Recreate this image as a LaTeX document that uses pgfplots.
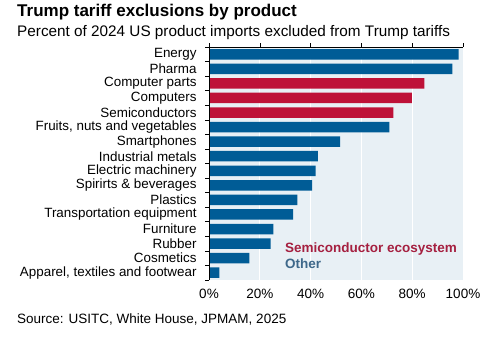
\documentclass[border=0pt]{standalone}
\usepackage{pgfplots}
\pgfplotsset{compat=1.18}
\usepackage{fontspec}
\setmainfont{Liberation Sans}
\definecolor{barblue}{RGB}{0,92,150}
\definecolor{barred}{RGB}{190,18,56}
\definecolor{bgc}{RGB}{232,240,245}
\definecolor{semitxt}{RGB}{165,32,64}
\definecolor{othtxt}{RGB}{62,104,138}
\begin{document}
\begin{tikzpicture}
\useasboundingbox (0pt,0pt) rectangle (500pt,337pt);
\node[anchor=base west,font=\bfseries\fontsize{17}{19}\selectfont,inner sep=0] at (17pt,320pt) {Trump tariff exclusions by product};
\node[anchor=base west,font=\fontsize{15.3}{17}\selectfont,inner sep=0] at (17pt,300pt) {Percent of 2024 US product imports excluded from Trump tariffs};
\begin{axis}[
  at={(209pt,57pt)}, anchor=south west,
  width=254pt, height=233pt, scale only axis,
  xmin=0, xmax=100, ymin=-0.5, ymax=15.5, y dir=reverse,
  axis background/.style={fill=bgc},
  axis line style={draw=none},
  xtick={0,20,...,100},
  xticklabel={\pgfmathprintnumber{\tick}\%},
  xticklabel pos=lower,
  xmajorgrids, major grid style={white, line width=1pt},
  major x tick style={draw=none},
  ytick={0,...,15},
  yticklabels={Energy,Pharma,Computer parts,Computers,Semiconductors,{Fruits, nuts and vegetables},Smartphones,Industrial metals,Electric machinery,Spirirts \& beverages,Plastics,Transportation equipment,Furniture,Rubber,Cosmetics,{Apparel, textiles and footwear}},
  major y tick style={draw=none},
  yticklabel style={font=\fontsize{13.4}{14}\selectfont, inner sep=0pt, xshift=-8pt},
  xticklabel style={font=\fontsize{13.5}{15}\selectfont, yshift=-6pt},
  /pgf/number format/assume math mode=true,
  xbar, bar width=10.5pt, bar shift=0pt,
  clip=false,
]
\addplot[fill=barblue, draw=none] coordinates {
(98.3,0) (95.8,1) (71,5) (51.6,6) (42.9,7) (42,8) (40.6,9) (34.8,10) (33.1,11) (25.3,12) (24.3,13) (15.9,14) (4.1,15)};
\addplot[fill=barred, draw=none] coordinates {
(84.8,2) (79.9,3) (72.6,4)};
\end{axis}
\begin{axis}[
  at={(209pt,57pt)}, anchor=south west,
  width=254pt, height=233pt, scale only axis,
  xmin=0, xmax=100, ymin=-0.5, ymax=15.5, y dir=reverse,
  axis x line*=top, axis y line*=left,
  axis line style={black, line width=0.6pt},
  xtick={0,20,...,100}, xticklabels={},
  ytick={-0.5,0.5,...,15.5}, yticklabels={},
  tick align=outside, tick style={black, line width=0.6pt},
  major tick length=4pt,
]
\end{axis}
\node[anchor=base west,font=\bfseries\fontsize{13.5}{15}\selectfont,text=semitxt,inner sep=0] at (285pt,84pt) {Semiconductor ecosystem};
\node[anchor=base west,font=\bfseries\fontsize{13.5}{15}\selectfont,text=othtxt,inner sep=0] at (285pt,68pt) {Other};
\node[anchor=base west,font=\fontsize{13.5}{15}\selectfont,inner sep=0] at (17pt,14pt) {Source: USITC, White House, JPMAM, 2025};
\end{tikzpicture}
\end{document}
